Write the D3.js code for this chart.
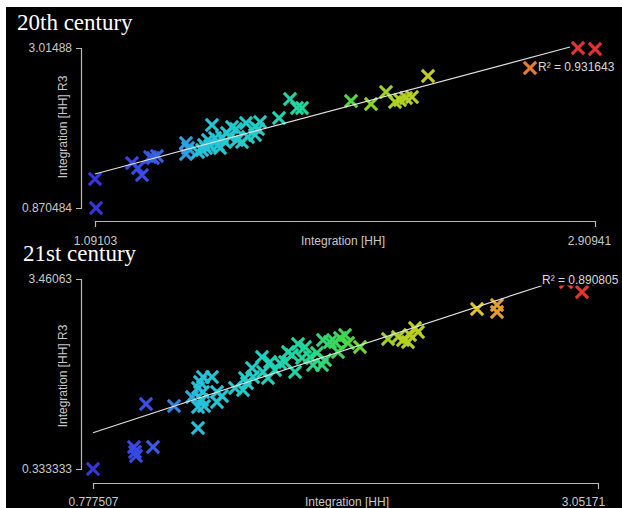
<!DOCTYPE html>
<html>
<head>
<meta charset="utf-8">
<script src="https://cdn.jsdelivr.net/npm/d3@7"></script>
<style>
  html, body { margin: 0; padding: 0; background: #fff; }
  svg { display: block; }
  .tick text, .lbl { font-family: "Liberation Sans", Arial, sans-serif; }
</style>
</head>
<body>
<svg id="chart" width="622" height="508"></svg>
<script>
// ---- 20th century: integration [HH] vs integration [HH] R3 ----
const c20Integration = [
  1.0947, 1.09103, 1.2256, 1.2474, 1.2620, 1.2911, 1.3020, 1.3165, 1.4220, 1.4220,
  1.4293, 1.4656, 1.4802, 1.4947, 1.5165, 1.5020, 1.5274, 1.5383, 1.5529, 1.5638,
  1.5711, 1.5820, 1.5893, 1.6075, 1.6257, 1.6402, 1.6475, 1.6729, 1.6729, 1.6838,
  1.6911, 1.7602, 1.8002, 1.8257, 1.8438, 2.0221, 2.0948, 2.1493, 2.1821, 2.2003,
  2.2221, 2.2439, 2.3021, 2.6731, 2.8476, 2.90941, 1.5093, 1.4874, 1.6038, 1.5456
];
const c20IntegrationR3 = [
  0.870484, 1.2592, 1.4736, 1.4066, 1.3128, 1.5540, 1.5406, 1.5674, 1.7416, 1.5942,
  1.6747, 1.6210, 1.6478, 1.6747, 1.9829, 1.7818, 1.8087, 1.7148, 1.8221, 1.7550,
  1.8757, 1.8221, 1.9561, 1.7818, 1.7550, 2.0097, 1.8221, 1.8489, 1.9561, 1.9293,
  2.0231, 2.0767, 2.3314, 2.2107, 2.2107, 2.3046, 2.2644, 2.4252, 2.2912, 2.3180,
  2.3448, 2.3582, 2.6396, 2.7468, 3.01488, 3.0015, 1.7014, 1.7148, 1.9293, 1.6747
];
const c20XTicks = [1.09103, 2.90941];
const c20YTicks = [0.870484, 3.01488];
const c20XTickLabels = ["1.09103", "2.90941"];
const c20YTickLabels = ["0.870484", "3.01488"];
const c20FitX = [1.09103, 2.8185];
const c20FitY = [1.3262, 3.0283];
const c20R2 = "R² = 0.931643";

// ---- 21st century ----
const c21Integration = [
  0.777507, 0.9621, 0.9666, 0.9712, 1.0477, 1.0162, 1.1423, 1.2233, 1.2504, 1.2594,
  1.2504, 1.2729, 1.2684, 1.2504, 1.2774, 1.3134, 1.2729, 1.3359, 1.3359, 1.3585,
  1.4170, 1.4530, 1.4710, 1.4936, 1.4981, 1.5386, 1.5431, 1.5746, 1.5971, 1.6196,
  1.6422, 1.6737, 1.6872, 1.7007, 1.7187, 1.7547, 1.7863, 1.7683, 1.8088, 1.8133,
  1.8448, 1.8673, 1.8898, 1.9124, 1.9259, 1.9799, 2.1060, 2.1510, 2.1736, 2.1961,
  2.2051, 2.2276, 2.2411, 2.5068, 2.5969, 2.5969, 2.9796, 2.9076, 3.05171, 1.4620,
  1.5656, 1.7322, 1.8808, 1.8223, 1.6557
];
const c21IntegrationR3 = [
  0.333333, 0.6954, 0.6131, 0.5473, 0.6954, 1.4032, 1.3703, 1.5184, 1.0082, 1.7653,
  1.6666, 1.6007, 1.4690, 1.3538, 1.3703, 1.8476, 1.8476, 1.6007, 1.4361, 1.5349,
  1.6666, 1.6336, 1.7488, 1.9957, 1.8476, 2.1768, 1.9299, 2.0945, 1.9628, 2.0780,
  2.0945, 2.2097, 1.9299, 2.3908, 2.1603, 2.1768, 2.2426, 2.0451, 2.0451, 2.4566,
  2.4237, 2.4237, 2.4895, 2.5389, 2.4072, 2.3414, 2.4730, 2.5060, 2.4566, 2.4237,
  2.5389, 2.6541, 2.5883, 2.9668, 3.0327, 2.9175, 3.2467, 3.4113, 3.46063, 1.8311,
  1.8311, 2.3414, 2.2591, 2.1274, 2.2591
];
const c21XTicks = [0.777507, 3.05171];
const c21YTicks = [0.333333, 3.46063];
const c21XTickLabels = ["0.777507", "3.05171"];
const c21YTickLabels = ["0.333333", "3.46063"];
const c21FitX = [0.777507, 2.7982];
const c21FitY = [0.9308, 3.3504];
const c21R2 = "R² = 0.890805";

// Hue ramp along the x position, blue through red
const rampStops  = [0, 0.1, 0.16, 0.21, 0.33, 0.42, 0.5, 0.55, 0.62, 0.72, 0.77, 0.81, 0.88, 0.95, 1];
const rampColors = ["#3636e0", "#3a4ce6", "#2f82e2", "#26c2dc", "#20d0c6", "#20d89a",
                    "#42d84c", "#86d622", "#b6d020", "#d4cc22", "#e0c020", "#e89232",
                    "#e87a30", "#e83434", "#e83030"];

const svg = d3.select("#chart");
svg.append("rect").attr("x", 6).attr("y", 7).attr("width", 616).attr("height", 501).attr("fill", "#000");

const panels = [
  { title: "20th century", titleX: 17, titleY: 30,
    xs: c20Integration, ys: c20IntegrationR3,
    xTicks: c20XTicks, yTicks: c20YTicks, xLabels: c20XTickLabels, yLabels: c20YTickLabels,
    fitX: c20FitX, fitY: c20FitY, r2: c20R2,
    xRange: [95, 595], yRange: [208, 48], xAxisY: 221, yAxisX: 81,
    xPad: 15, lastLabelDx: -6, yTitleY: 127, xTitleX: 343, xTitleY: 245,
    r2X: 538, r2Y: 67, r2Box: false },
  { title: "21st century", titleX: 23, titleY: 261,
    xs: c21Integration, ys: c21IntegrationR3,
    xTicks: c21XTicks, yTicks: c21YTicks, xLabels: c21XTickLabels, yLabels: c21YTickLabels,
    fitX: c21FitX, fitY: c21FitY, r2: c21R2,
    xRange: [93, 598], yRange: [469, 279], xAxisY: 483, yAxisX: 81,
    xPad: 14.5, lastLabelDx: -15, yTitleY: 376, xTitleX: 347, xTitleY: 506,
    r2X: 542, r2Y: 280, r2Box: true }
];

panels.forEach(p => {
  const x = d3.scaleLinear().domain(p.xTicks).range(p.xRange);
  const y = d3.scaleLinear().domain(p.yTicks).range(p.yRange);
  const color = d3.scaleLinear().domain(rampStops).range(rampColors).clamp(true);
  const norm = d3.scaleLinear().domain(p.xTicks).range([0, 1]);
  const g = svg.append("g");

  // Title
  g.append("text")
    .attr("x", p.titleX).attr("y", p.titleY)
    .attr("fill", "#fff")
    .style("font-family", "'Liberation Serif', 'Times New Roman', serif")
    .style("font-size", "23px")
    .text(p.title);

  // Axes: only the end values are labelled
  const xAxis = d3.axisBottom(x).tickValues(p.xTicks)
    .tickFormat((d, i) => p.xLabels[i])
    .tickSizeInner(0).tickSizeOuter(6).tickPadding(p.xPad);
  const yAxis = d3.axisLeft(y).tickValues(p.yTicks)
    .tickFormat((d, i) => p.yLabels[i])
    .tickSizeInner(0).tickSizeOuter(5).tickPadding(9);

  const gx = g.append("g").attr("transform", `translate(0,${p.xAxisY})`).call(xAxis);
  const gy = g.append("g").attr("transform", `translate(${p.yAxisX},0)`).call(yAxis);
  [gx, gy].forEach(a => {
    a.select(".domain").attr("stroke", "#b8b8b8").attr("stroke-width", 1.2);
    a.selectAll(".tick line").remove();
    a.selectAll(".tick text").attr("fill", "#c8c8c8").style("font-size", "12px");
  });
  gx.selectAll(".tick text").filter((d, i) => i === 1).attr("dx", p.lastLabelDx);

  // Axis titles
  g.append("text").attr("class", "lbl")
    .attr("x", p.xTitleX).attr("y", p.xTitleY)
    .attr("text-anchor", "middle").attr("fill", "#c8c8c8")
    .style("font-size", "12px").text("Integration [HH]");
  g.append("text").attr("class", "lbl")
    .attr("transform", `translate(67,${p.yTitleY}) rotate(-90)`)
    .attr("text-anchor", "middle").attr("fill", "#c8c8c8")
    .style("font-size", "12px").text("Integration [HH] R3");

  // Points, sorted by x so the warmer marks sit on top
  const pts = p.xs.map((v, i) => ({ x: v, y: p.ys[i] })).sort((a, b) => a.x - b.x);
  const sym = d3.symbol().type(d3.symbolX).size(100);
  g.append("g").selectAll("path").data(pts).join("path")
    .attr("transform", d => `translate(${x(d.x)},${y(d.y)})`)
    .attr("d", sym)
    .attr("fill", "none")
    .attr("stroke", d => color(norm(d.x)))
    .attr("stroke-width", 3);

  // Regression line
  g.append("line")
    .attr("x1", x(p.fitX[0])).attr("y1", y(p.fitY[0]))
    .attr("x2", x(p.fitX[1])).attr("y2", y(p.fitY[1]))
    .attr("stroke", "#e0e0e0").attr("stroke-width", 1.2);

  // R² label
  if (p.r2Box) {
    g.append("rect").attr("x", p.r2X - 2).attr("y", p.r2Y - 9)
      .attr("width", 80).attr("height", 14.5).attr("fill", "#000");
  }
  g.append("text").attr("class", "lbl")
    .attr("x", p.r2X).attr("y", p.r2Y).attr("dy", "0.35em")
    .attr("fill", "#d8d8d8").style("font-size", "12px")
    .text(p.r2);
});
</script>
</body>
</html>
